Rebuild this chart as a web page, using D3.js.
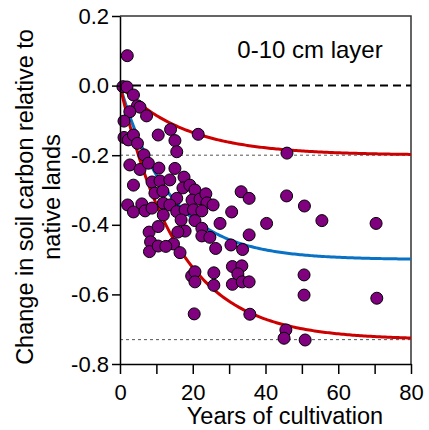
<!doctype html>
<html>
  <head>
    <meta charset="utf-8">
    <title>Soil carbon vs years of cultivation</title>
    <style>
      body { margin: 0; background: #fff; }
      svg { font-family: Arial, "Liberation Sans", sans-serif; }
    </style>
    <script src="https://cdnjs.cloudflare.com/ajax/libs/d3/7.8.5/d3.min.js"></script>
  </head>
  <body>
    <div id="my-svg-chart"></div>
    <script>

      // observations: years under cultivation and relative change in soil carbon
      const years = [
        2.0, 0.8, 1.9, 3.7, 4.8, 5.5, 2.7, 7.3, 1.1, 10.5,
        13.9, 15.1, 21.5, 1.1, 2.3, 3.7, 4.8, 15.6, 6.6, 2.7,
        5.5, 7.8, 10.7, 15.1, 3.7, 8.8, 11.0, 9.6, 11.8, 13.7,
        17.6, 17.3, 19.2, 20.6, 15.6, 19.8, 22.0, 23.6, 23.9, 25.6,
        33.3, 35.5, 45.8, 50.7, 55.5, 70.4, 2.1, 3.7, 6.0, 6.9,
        8.8, 11.9, 13.7, 15.6, 17.9, 20.2, 22.5, 11.9, 16.8, 20.6,
        27.5, 30.7, 40.3, 8.0, 10.5, 17.9, 15.9, 22.5, 8.4, 14.7,
        22.5, 24.7, 26.3, 30.5, 33.7, 35.5, 8.1, 10.5, 12.6, 16.5,
        19.7, 20.6, 20.6, 25.8, 25.8, 30.9, 30.9, 33.5, 32.4, 33.6,
        35.5, 50.6, 50.6, 70.6, 20.4, 35.7, 45.6, 45.1, 50.9, 45.9
      ];
      const change = [
        0.086, -0.003, -0.004, -0.027, -0.058, -0.062, -0.075, -0.087, -0.102, -0.142,
        -0.126, -0.158, -0.140, -0.149, -0.156, -0.142, -0.166, -0.190, -0.199, -0.228,
        -0.241, -0.223, -0.237, -0.238, -0.286, -0.277, -0.274, -0.309, -0.303, -0.271,
        -0.263, -0.294, -0.286, -0.300, -0.324, -0.329, -0.326, -0.311, -0.337, -0.343,
        -0.305, -0.324, -0.317, -0.346, -0.388, -0.396, -0.343, -0.363, -0.340, -0.360,
        -0.352, -0.338, -0.343, -0.362, -0.357, -0.357, -0.360, -0.372, -0.386, -0.388,
        -0.396, -0.363, -0.396, -0.421, -0.405, -0.418, -0.421, -0.410, -0.449, -0.455,
        -0.432, -0.436, -0.468, -0.458, -0.471, -0.429, -0.477, -0.461, -0.462, -0.480,
        -0.547, -0.535, -0.564, -0.538, -0.574, -0.520, -0.571, -0.518, -0.541, -0.564,
        -0.564, -0.544, -0.602, -0.611, -0.656, -0.657, -0.702, -0.726, -0.731, -0.194
      ];

      // fitted curves: change = asymptote * (1 - exp(-rate * years))
      const curveNames = ['upper', 'mean', 'lower'];
      const curveAsymptote = [-0.20, -0.50, -0.73];
      const curveRate = [0.056, 0.072, 0.063];
      const curveColor = ['#cc0000', '#0a72c4', '#cc0000'];

      // reference lines
      const refValues = [-0.20, -0.73];

      const xTicks = [0, 10, 20, 30, 40, 50, 60, 70, 80];
      const xLabels = ['0', '', '20', '', '40', '', '60', '', '80'];
      const yTicks = [0.2, 0.0, -0.2, -0.4, -0.6, -0.8];
      const yLabels = ['0.2', '0.0', '-0.2', '-0.4', '-0.6', '-0.8'];

      const width = 429, height = 430;
      const margin = {top: 16, right: 18, bottom: 66, left: 120};

      const svg = d3.select('#my-svg-chart')
        .append('svg')
        .attr('width', width)
        .attr('height', height);

      const x = d3.scaleLinear()
        .domain([0, 80])
        .range([margin.left, width - margin.right]);

      const y = d3.scaleLinear()
        .domain([-0.8, 0.2])
        .range([height - margin.bottom, margin.top]);

      // frame on top and right
      svg.append('path')
        .attr('d', `M${x(0)},${y(0.2)}H${x(80)}V${y(-0.8)}`)
        .attr('fill', 'none')
        .attr('stroke', '#333')
        .attr('stroke-width', 1.5);

      // zero line
      svg.append('line')
        .attr('x1', x(0)).attr('x2', x(80))
        .attr('y1', y(0)).attr('y2', y(0))
        .attr('stroke', '#000')
        .attr('stroke-width', 2)
        .attr('stroke-dasharray', '8,5');

      svg.selectAll('.ref')
        .data(refValues)
        .join('line')
        .attr('class', 'ref')
        .attr('x1', x(0)).attr('x2', x(80))
        .attr('y1', d => y(d)).attr('y2', d => y(d))
        .attr('stroke', '#555')
        .attr('stroke-width', 1)
        .attr('stroke-dasharray', '3,3');

      // curves
      const line = d3.line()
        .x(d => x(d[0]))
        .y(d => y(d[1]));

      const curveData = curveNames.map((n, i) => {
        return d3.range(0, 80.5, 0.5).map(t => [t, curveAsymptote[i] * (1 - Math.exp(-curveRate[i] * t))]);
      });

      svg.selectAll('.curve')
        .data(curveData)
        .join('path')
        .attr('class', 'curve')
        .attr('d', line)
        .attr('fill', 'none')
        .attr('stroke', (d, i) => curveColor[i])
        .attr('stroke-width', 3);

      // points
      svg.selectAll('circle')
        .data(years)
        .join('circle')
        .attr('cx', d => x(d))
        .attr('cy', (d, i) => y(change[i]))
        .attr('r', 6)
        .attr('fill', '#800080')
        .attr('stroke', '#000')
        .attr('stroke-width', 1);

      // axes
      const xAxis = svg.append('g')
        .attr('transform', `translate(0,${y(-0.8)})`)
        .call(d3.axisBottom(x)
          .tickValues(xTicks)
          .tickFormat((d, i) => xLabels[i])
          .tickSize(10)
          .tickSizeOuter(0)
          .tickPadding(10));

      const yAxis = svg.append('g')
        .attr('transform', `translate(${x(0)},0)`)
        .call(d3.axisLeft(y)
          .tickValues(yTicks)
          .tickFormat((d, i) => yLabels[i])
          .tickSize(8)
          .tickSizeOuter(0)
          .tickPadding(3));

      [xAxis, yAxis].forEach(a => {
        a.select('.domain').attr('stroke', '#000').attr('stroke-width', 1.5);
        a.selectAll('.tick line').attr('stroke', '#000').attr('stroke-width', 1.5);
        a.selectAll('.tick text')
          .attr('fill', '#000')
          .style('font-size', '22px')
          .style('font-family', 'Arial, "Liberation Sans", sans-serif');
      });

      // titles
      svg.append('text')
        .attr('x', 285)
        .attr('y', 424)
        .attr('text-anchor', 'middle')
        .style('font-size', '23.5px')
        .text('Years of cultivation');

      const yTitle = svg.append('text')
        .attr('transform', 'translate(33,197) rotate(-90)')
        .attr('text-anchor', 'middle')
        .style('font-size', '23.5px');
      yTitle.append('tspan').attr('x', 0).attr('y', 0).text('Change in soil carbon relative to');
      yTitle.append('tspan').attr('x', 0).attr('y', 27).text('native lands');

      svg.append('text')
        .attr('x', 310)
        .attr('y', 58)
        .attr('text-anchor', 'middle')
        .style('font-size', '24px')
        .text('0-10 cm layer');

    </script>
  </body>
</html>
